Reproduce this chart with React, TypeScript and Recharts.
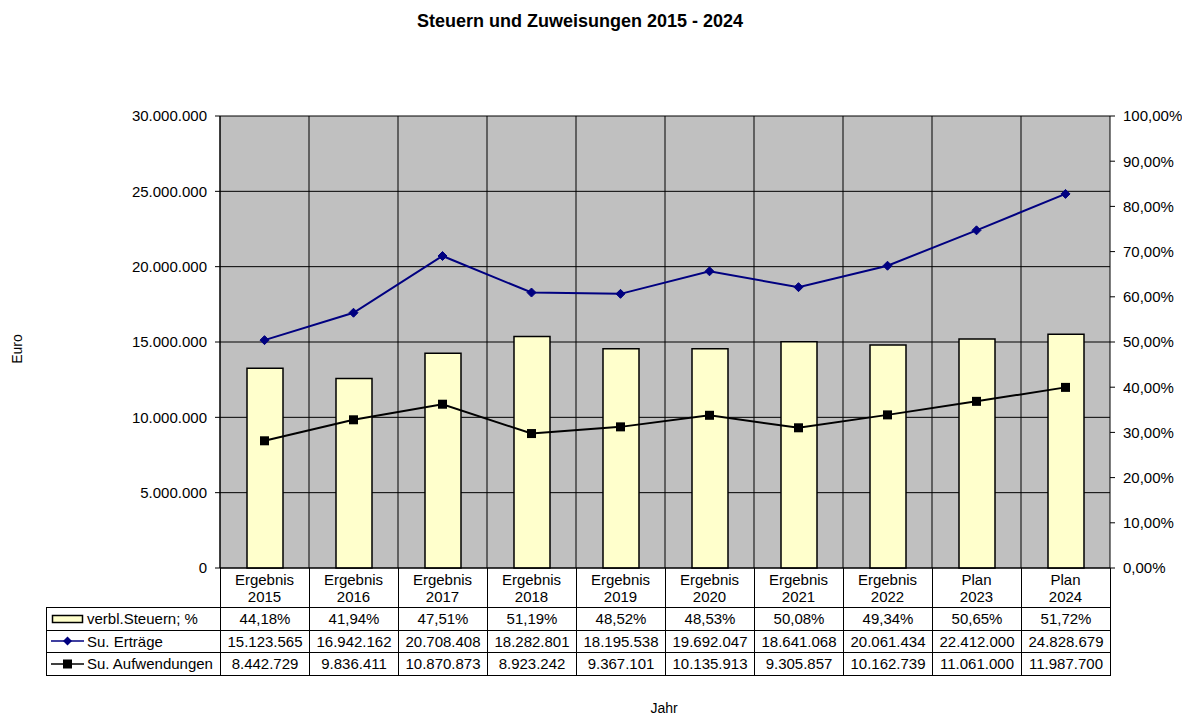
import React from "react";
import {
  ComposedChart,
  Bar,
  Line,
  XAxis,
  YAxis,
  CartesianGrid,
} from "recharts";

const FONT = "Arial, 'Liberation Sans', sans-serif";

const kinds = ["Ergebnis", "Ergebnis", "Ergebnis", "Ergebnis", "Ergebnis", "Ergebnis", "Ergebnis", "Ergebnis", "Plan", "Plan"];
const years = ["2015", "2016", "2017", "2018", "2019", "2020", "2021", "2022", "2023", "2024"];
const steuernPct = [44.18, 41.94, 47.51, 51.19, 48.52, 48.53, 50.08, 49.34, 50.65, 51.72];
const ertraege = [15123565, 16942162, 20708408, 18282801, 18195538, 19692047, 18641068, 20061434, 22412000, 24828679];
const aufwendungen = [8442729, 9836411, 10870873, 8923242, 9367101, 10135913, 9305857, 10162739, 11061000, 11987700];
const euroTicks = [0, 5000000, 10000000, 15000000, 20000000, 25000000, 30000000];
const pctTicks = [0, 10, 20, 30, 40, 50, 60, 70, 80, 90, 100];

const rows = years.map((y, i) => ({
  key: `${kinds[i]} ${y}`,
  kind: kinds[i],
  year: y,
  pct: steuernPct[i],
  ertraege: ertraege[i],
  aufwendungen: aufwendungen[i],
}));

const fmtEuro = (n: number) =>
  Math.round(n).toString().replace(/\B(?=(\d{3})+(?!\d))/g, ".");
const fmtPct = (n: number) => n.toFixed(2).replace(".", ",") + "%";

// chart frame
const W = 1182;
const H = 720;
const PLOT_LEFT = 220;
const PLOT_RIGHT = 1110;
const PLOT_BOTTOM = 568;
const COL_W = (PLOT_RIGHT - PLOT_LEFT) / years.length;
const FS = 15;
const ROW_H = 21.5;

function CategoryTick(props: any) {
  const { x, y, payload } = props;
  const row = rows.find((r) => r.key === payload.value);
  return (
    <g fontFamily={FONT} fontSize={FS} fill="#000">
      <text x={x} y={y + 16.5} textAnchor="middle">{row?.kind}</text>
      <text x={x} y={y + 33.5} textAnchor="middle">{row?.year}</text>
    </g>
  );
}

function Diamond(props: any) {
  const { cx, cy } = props;
  if (cx == null || cy == null) return null;
  return (
    <path
      d={`M${cx},${cy - 4.5} L${cx + 4.5},${cy} L${cx},${cy + 4.5} L${cx - 4.5},${cy} Z`}
      fill="#000080"
      stroke="#000080"
    />
  );
}

function Square(props: any) {
  const { cx, cy } = props;
  if (cx == null || cy == null) return null;
  return <rect x={cx - 4.5} y={cy - 4.5} width={9} height={9} fill="#000" />;
}

function LegendKey({ type }: { type: "bar" | "diamond" | "square" }) {
  return (
    <svg width={34} height={12} style={{ display: "block", marginRight: 2, flex: "none" }}>
      {type === "bar" && (
        <rect x={1.5} y={2.5} width={30} height={7} fill="#FFFFCC" stroke="#000" strokeWidth={1.5} />
      )}
      {type === "diamond" && (
        <>
          <line x1={0} y1={6} x2={33} y2={6} stroke="#000080" strokeWidth={1.5} />
          <path d="M16.5,1.5 L21,6 L16.5,10.5 L12,6 Z" fill="#000080" />
        </>
      )}
      {type === "square" && (
        <>
          <line x1={0} y1={6} x2={33} y2={6} stroke="#000" strokeWidth={1.5} />
          <rect x={12} y={1.5} width={9} height={9} fill="#000" />
        </>
      )}
    </svg>
  );
}

const tableRows = [
  { label: "verbl.Steuern; %", key: "bar" as const, values: steuernPct.map(fmtPct) },
  { label: "Su. Erträge", key: "diamond" as const, values: ertraege.map(fmtEuro) },
  { label: "Su. Aufwendungen", key: "square" as const, values: aufwendungen.map(fmtEuro) },
];

export default function App() {
  const cell: React.CSSProperties = {
    border: "1px solid #000",
    padding: 0,
    height: ROW_H,
    lineHeight: `${ROW_H}px`,
    textAlign: "center",
    fontSize: FS,
    whiteSpace: "nowrap",
    overflow: "hidden",
    boxSizing: "border-box",
  };

  return (
    <div
      style={{
        position: "absolute",
        left: 0,
        top: 0,
        width: W,
        height: H,
        background: "#fff",
        fontFamily: FONT,
        color: "#000",
        overflow: "hidden",
      }}
    >
      <div
        style={{
          position: "absolute",
          left: 0,
          width: 1160,
          top: 11,
          textAlign: "center",
          fontWeight: "bold",
          fontSize: 18,
        }}
      >
        Steuern und Zuweisungen 2015 - 2024
      </div>

      <div
        style={{
          position: "absolute",
          left: 17,
          top: 349,
          fontSize: 14,
          transform: "translate(-50%, -50%) rotate(-90deg)",
        }}
      >
        Euro
      </div>

      <ComposedChart
        width={W}
        height={H}
        data={rows}
        margin={{ top: 116, right: 0, bottom: 112, left: 140 }}
        style={{ position: "absolute", left: 0, top: 0 }}
      >
        <CartesianGrid
          yAxisId="euro"
          fill="#C0C0C0"
          stroke="#000"
          strokeOpacity={1}
          verticalCoordinatesGenerator={({ offset }: any) =>
            years.map((_, i) => offset.left + (i * offset.width) / years.length)
          }
        />
        <XAxis
          dataKey="key"
          height={40}
          tickSize={0}
          tickMargin={0}
          axisLine={{ stroke: "#000" }}
          tickLine={false}
          interval={0}
          tick={<CategoryTick />}
        />
        <YAxis
          yAxisId="euro"
          orientation="left"
          width={80}
          domain={[0, 30000000]}
          ticks={euroTicks}
          tickFormatter={fmtEuro}
          tickSize={5}
          tickMargin={8}
          axisLine={{ stroke: "#000" }}
          tickLine={{ stroke: "#000" }}
          tick={{ fill: "#000", fontSize: FS, fontFamily: FONT }}
        />
        <YAxis
          yAxisId="pct"
          orientation="right"
          width={72}
          domain={[0, 100]}
          ticks={pctTicks}
          tickFormatter={fmtPct}
          tickSize={5}
          tickMargin={8}
          axisLine={{ stroke: "#000" }}
          tickLine={{ stroke: "#000" }}
          tick={{ fill: "#000", fontSize: FS, fontFamily: FONT, textAnchor: "start" }}
        />
        <Bar
          yAxisId="pct"
          dataKey="pct"
          barSize={36}
          fill="#FFFFCC"
          stroke="#000"
          strokeWidth={1.5}
          isAnimationActive={false}
        />
        <Line
          yAxisId="euro"
          dataKey="ertraege"
          stroke="#000080"
          strokeWidth={2}
          dot={<Diamond />}
          activeDot={false}
          isAnimationActive={false}
        />
        <Line
          yAxisId="euro"
          dataKey="aufwendungen"
          stroke="#000"
          strokeWidth={2}
          dot={<Square />}
          activeDot={false}
          isAnimationActive={false}
        />
      </ComposedChart>

      {/* header cell separators under the category axis */}
      {Array.from({ length: years.length + 1 }).map((_, i) => (
        <div
          key={i}
          style={{
            position: "absolute",
            left: PLOT_LEFT + i * COL_W - 0.5,
            top: PLOT_BOTTOM,
            width: 1,
            height: 40,
            background: "#000",
          }}
        />
      ))}

      <table
        style={{
          position: "absolute",
          left: 46,
          top: 607,
          borderCollapse: "collapse",
          tableLayout: "fixed",
          width: PLOT_RIGHT - 46,
          fontFamily: FONT,
        }}
      >
        <colgroup>
          <col style={{ width: PLOT_LEFT - 46 }} />
          {years.map((y) => (
            <col key={y} style={{ width: COL_W }} />
          ))}
        </colgroup>
        <tbody>
          {tableRows.map((r) => (
            <tr key={r.label} style={{ height: ROW_H }}>
              <td style={{ ...cell, textAlign: "left" }}>
                <div
                  style={{
                    display: "flex",
                    alignItems: "center",
                    height: ROW_H,
                    paddingLeft: 4,
                    lineHeight: "normal",
                  }}
                >
                  <LegendKey type={r.key} />
                  <span>{r.label}</span>
                </div>
              </td>
              {r.values.map((v, i) => (
                <td key={i} style={cell}>{v}</td>
              ))}
            </tr>
          ))}
        </tbody>
      </table>

      <div
        style={{
          position: "absolute",
          left: 0,
          width: 1328,
          top: 700,
          textAlign: "center",
          fontSize: 14,
        }}
      >
        Jahr
      </div>
    </div>
  );
}
